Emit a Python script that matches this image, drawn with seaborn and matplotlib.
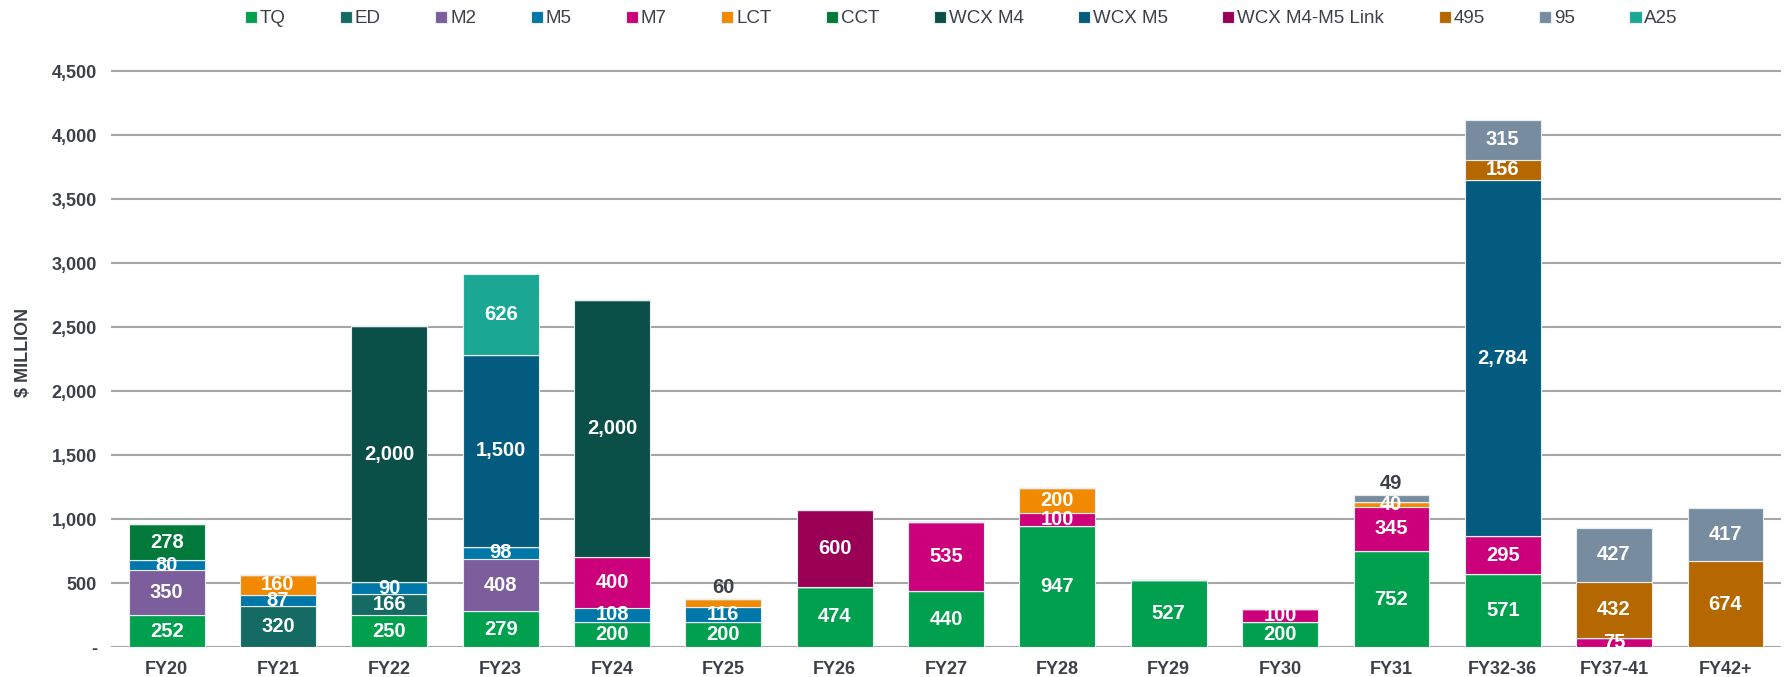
import numpy as np
import pandas as pd
import matplotlib
matplotlib.use('Agg')
import matplotlib.pyplot as plt
import seaborn as sns

# Données
years = ['FY20', 'FY21', 'FY22', 'FY23', 'FY24', 'FY25', 'FY26', 'FY27', 'FY28',
         'FY29', 'FY30', 'FY31', 'FY32-36', 'FY37-41', 'FY42+']
series = ['TQ', 'ED', 'M2', 'M5', 'M7', 'LCT', 'CCT', 'WCX M4', 'WCX M5',
          'WCX M4-M5 Link', '495', '95', 'A25']
tq = [252, 0, 250, 279, 200, 200, 474, 440, 947, 527, 200, 752, 571, 0, 0]
ed = [0, 320, 166, 0, 0, 0, 0, 0, 0, 0, 0, 0, 0, 0, 0]
m2 = [350, 0, 0, 408, 0, 0, 0, 0, 0, 0, 0, 0, 0, 0, 0]
m5 = [80, 87, 90, 98, 108, 116, 0, 0, 0, 0, 0, 0, 0, 0, 0]
m7 = [0, 0, 0, 0, 400, 0, 0, 535, 100, 0, 100, 345, 295, 75, 0]
lct = [0, 160, 0, 0, 0, 60, 0, 0, 200, 0, 0, 40, 0, 0, 0]
cct = [278, 0, 0, 0, 0, 0, 0, 0, 0, 0, 0, 0, 0, 0, 0]
wcx_m4 = [0, 0, 2000, 0, 2000, 0, 0, 0, 0, 0, 0, 0, 0, 0, 0]
wcx_m5 = [0, 0, 0, 1500, 0, 0, 0, 0, 0, 0, 0, 0, 2784, 0, 0]
wcx_link = [0, 0, 0, 0, 0, 0, 600, 0, 0, 0, 0, 0, 0, 0, 0]
r495 = [0, 0, 0, 0, 0, 0, 0, 0, 0, 0, 0, 0, 156, 432, 674]
r95 = [0, 0, 0, 0, 0, 0, 0, 0, 0, 0, 0, 49, 315, 427, 417]
a25 = [0, 0, 0, 626, 0, 0, 0, 0, 0, 0, 0, 0, 0, 0, 0]

colors = ['#00A04F', '#156B63', '#7B5E9B', '#0077A9', '#CC007A', '#F18A00',
          '#00793A', '#0B5048', '#035B80', '#990055', '#B56700', '#788CA0', '#1AA895']

values = [tq, ed, m2, m5, m7, lct, cct, wcx_m4, wcx_m5, wcx_link, r495, r95, a25]

df = pd.DataFrame({'year': years})
for name, vals in zip(series, values):
    df[name] = vals

sns.set_style('white')
plt.rcParams['font.family'] = ['Liberation Sans', 'DejaVu Sans']
text_col = '#3C4048'

fig = plt.figure(figsize=(17.9, 6.77), dpi=100)
ax = fig.add_axes([0.062, 0.044, 0.933, 0.870])

# Barres empilées
bottom = np.zeros(len(years))
for name, col in zip(series, colors):
    sns.barplot(data=df, x='year', y=name, color=col, label=name, bottom=bottom,
                width=0.68, edgecolor='#E8EEF0', linewidth=0.8, ax=ax, saturation=1)
    bottom = bottom + df[name].values

# Etiquettes des valeurs
totals = bottom
bottom = np.zeros(len(years))
for name in series:
    vals = df[name].values
    for i, v in enumerate(vals):
        if v == 0:
            continue
        top_seg = abs(bottom[i] + v - totals[i]) < 1e-9
        if v < 65 and top_seg:
            ax.text(i, bottom[i] + v + 20, f'{v:,}', ha='center', va='bottom',
                    color=text_col, fontsize=14.5, fontweight='bold')
        else:
            ax.text(i, bottom[i] + v / 2, f'{v:,}', ha='center', va='center',
                    color='white', fontsize=14.5, fontweight='bold')
    bottom = bottom + vals

# Axes
ax.set_ylim(0, 4600)
ax.set_xlim(-0.5, 14.5)
ax.set_yticks(range(0, 5000, 500))
ax.set_yticklabels(['-'] + [f'{t:,}' for t in range(500, 5000, 500)])
ax.yaxis.grid(True, color='#A6A6A6', linewidth=1.5)
ax.set_axisbelow(True)
sns.despine(ax=ax, left=True, bottom=True)
ax.tick_params(axis='both', length=0, labelsize=13, labelcolor=text_col, pad=10)
for lab in ax.get_xticklabels() + ax.get_yticklabels():
    lab.set_fontweight('bold')
ax.set_xlabel('')
ax.set_ylabel('$ MILLION', fontsize=13, fontweight='bold', color=text_col, labelpad=14)

# Légende (en haut, une seule ligne)
handles, labels = ax.get_legend_handles_labels()
if ax.get_legend() is not None:
    ax.get_legend().remove()
leg = fig.legend(handles, labels, loc='center', bbox_to_anchor=(0.537, 0.972), ncol=13,
                 frameon=False, fontsize=13.5, handlelength=0.65, handleheight=0.65,
                 handletextpad=0.15, columnspacing=2.9, labelcolor=text_col)

plt.savefig('out.png', dpi=100)
plt.close()
